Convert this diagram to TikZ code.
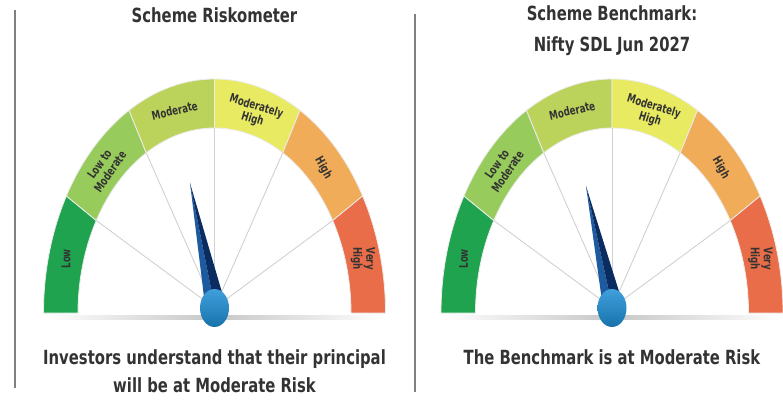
\documentclass[tikz,border=0pt]{standalone}
\usepackage{fontspec}
\setmainfont{DejaVu Sans}[FakeStretch=0.76]
\newfontfamily\lblfont{DejaVu Sans}[FakeStretch=0.72]
\usetikzlibrary{shapes.geometric}

\definecolor{riskLow}{HTML}{1FA34F}
\definecolor{riskLowMod}{HTML}{97CC5C}
\definecolor{riskMod}{HTML}{BCD35B}
\definecolor{riskModHigh}{HTML}{E8EA62}
\definecolor{riskHigh}{HTML}{F0AC58}
\definecolor{riskVHigh}{HTML}{E96D48}
\definecolor{needleLight}{HTML}{1E5AA0}
\definecolor{needleDark}{HTML}{0B2C60}
\definecolor{hubBlue}{HTML}{1E8FD6}
\definecolor{txtGray}{HTML}{333333}

\tikzset{
	band/.style={draw=white!85!gray, line width=0.8pt},
	spoke/.style={draw=black!18, line width=0.9pt},
	bandlabel/.style={font=\lblfont\bfseries\fontsize{12}{13}\selectfont, text=txtGray, align=center, inner sep=0pt},
	heading/.style={font=\bfseries\fontsize{19.5}{31}\selectfont, text=txtGray, align=center},
	caption/.style={font=\bfseries\fontsize{19.5}{28}\selectfont, text=txtGray, align=center},
	divider/.style={draw=gray, line width=1.3pt},
}

\begin{document}
\begin{tikzpicture}[x=1pt,y=1pt]
	\useasboundingbox (0,0) rectangle (783,399);
	
	\draw[divider] (15,11) -- (15,389);
	\draw[divider] (415,7) -- (415,385);
	
	\foreach \g/\cx/\tx/\ty in {L/214.5/-24.5/130, R/612/-26/127} {
		\begin{scope}[shift={(\cx,86)}]
			\shade[left color=white, right color=white, middle color=black!22] (-170,-6) rectangle (170,-2);
			\foreach \s/\c in {180/riskLow,150/riskLowMod,120/riskMod,90/riskModHigh,60/riskHigh,30/riskVHigh}
				\filldraw[fill=\c, band] (\s:171 and 234) arc[start angle=\s, delta angle=-30, x radius=171, y radius=234] -- ({\s-30}:136.5 and 185) arc[start angle={\s-30}, delta angle=30, x radius=136.5, y radius=185] -- cycle;
			\foreach \a in {150,120,...,30}
				\draw[spoke] (0,5) -- (\a:136.5 and 185);
			
			\node[bandlabel, rotate=90] (low\g) at (165:153.75 and 209.5) {Low};
			\node[bandlabel, rotate=55] (lowmod\g) at (135.5:153.75 and 207) {Low to\\Moderate};
			\node[bandlabel, rotate=13] (mod\g) at (105:153.75 and 209.5) {Moderate};
			\node[bandlabel, rotate=-17] (modhigh\g) at (75:153.75 and 207) {Moderately\\High};
			\node[bandlabel, rotate=-60] (high\g) at (45:153.75 and 205) {High};
			\node[bandlabel, rotate=-90] (vhigh\g) at (15:153.75 and 209.5) {Very\\High};
			
			\coordinate (tip\g) at (\tx,\ty);
			\fill[needleLight] (tip\g) -- (-10,12) -- (-1,12) -- cycle;
			\fill[needleDark] (tip\g) -- (-1,12) -- (10,12) -- cycle;
			\node[ellipse, top color=hubBlue!85!white, bottom color=hubBlue!80!black, minimum width=29pt, minimum height=38pt, inner sep=0pt] (hub\g) at (0,5) {};
		\end{scope}
	}
	
	\node[heading] (titleL) at (214.5,384) {Scheme Riskometer};
	\node[heading] (titleR) at (612,368) {Scheme Benchmark:\\Nifty SDL Jun 2027};
	\node[caption] (noteL) at (214.5,28) {Investors understand that their principal\\will be at Moderate Risk};
	\node[caption] (noteR) at (612,42) {The Benchmark is at Moderate Risk};
\end{tikzpicture}
\end{document}
